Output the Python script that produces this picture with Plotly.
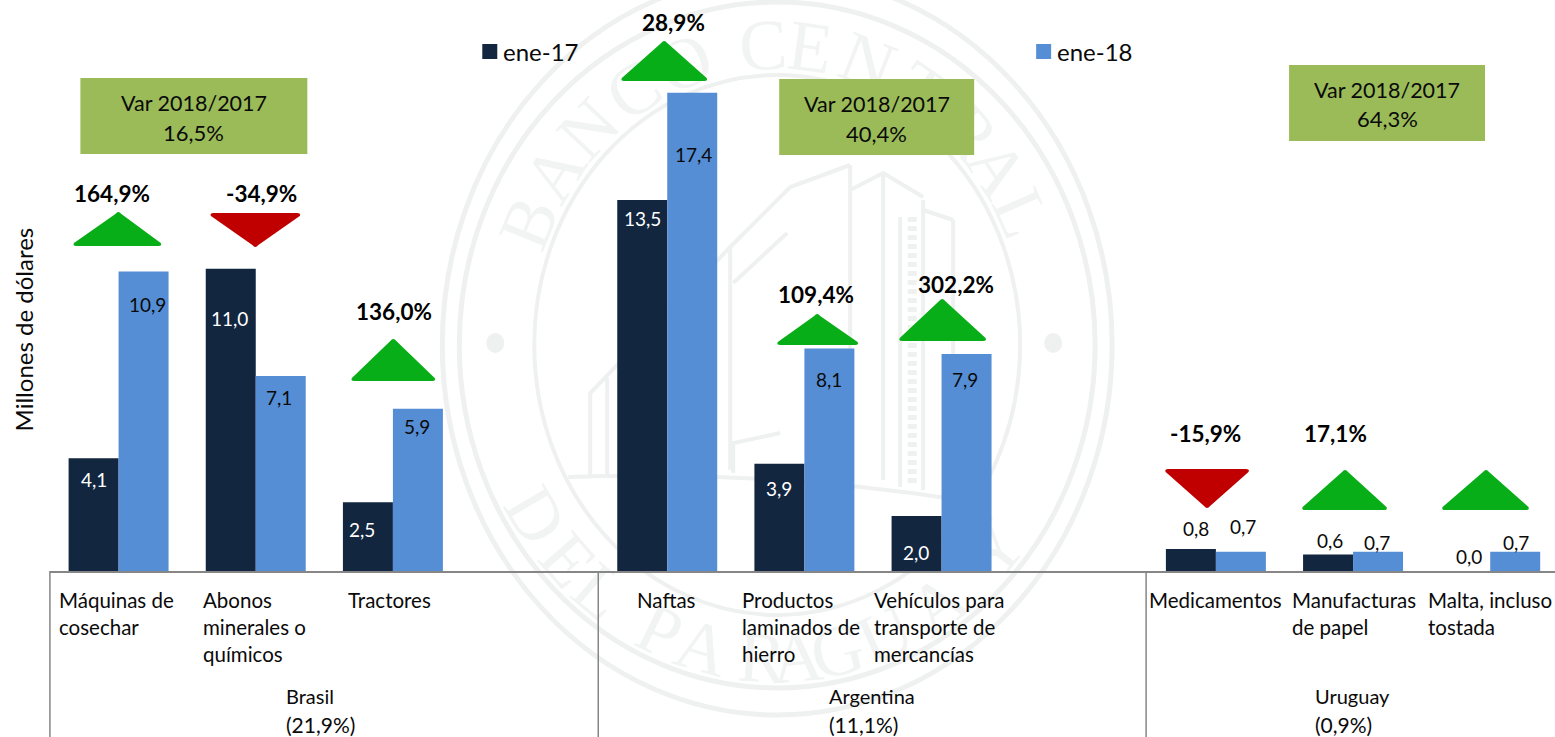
import math
import plotly.graph_objects as go

W, H = 1555, 737
BASE_PX = 571
LEFT_PX = 49.6
UNIT_PX = 27.48
STEP_PX = 137.2
FIRST_PX = 118.2
FONT = "Lato"

# ---- data ----
slots = ["Máquinas de cosechar", "Abonos minerales o químicos", "Tractores", " ",
         "Naftas", "Productos laminados de hierro", "Vehículos para transporte de mercancías", "  ",
         "Medicamentos", "Manufacturas de papel", "Malta, incluso tostada"]
ene_17 = [4.1, 11.0, 2.5, None, 13.5, 3.9, 2.0, None, 0.8, 0.6, 0.0]
ene_18 = [10.9, 7.1, 5.9, None, 17.4, 8.1, 7.9, None, 0.7, 0.7, 0.7]
variation = ["164,9%", "-34,9%", "136,0%", "28,9%", "109,4%", "302,2%", "-15,9%", "17,1%"]
country_names = ["Brasil", "Argentina", "Uruguay"]
country_share = ["(21,9%)", "(11,1%)", "(0,9%)"]
country_var = ["16,5%", "40,4%", "64,3%"]
series_names = ["ene-17", "ene-18"]
y_title = "Millones de dólares"

C17, C18 = "#12263F", "#558ED5"
GREEN, RED = "#08AE17", "#C00000"
BOX = "#9BBB59"
SEAL = "#EEF1EF"
SEAL_TEXT = "#F1F4F2"
GRAY = "#868686"
INK = "#0A0A0A"


def xp(px):
    return (px - LEFT_PX) / (W - LEFT_PX)


def yp(py):
    return (BASE_PX - py) / BASE_PX


def text(px, py, s, size=19, color=INK, anchor="center", bold=False, angle=0):
    if anchor == "left":
        px -= 2
    return dict(x=xp(px), y=yp(py - 1), xref="paper", yref="paper", text=f"<b>{s}</b>" if bold else s,
                showarrow=False, xanchor=anchor, yanchor="middle", textangle=angle,
                font=dict(family=FONT, size=size, color=color))


fmt = lambda v: f"{v:.1f}".replace(".", ",")

fig = go.Figure()
for name, vals, col in zip(series_names, [ene_17, ene_18], [C17, C18]):
    fig.add_trace(go.Bar(x=list(range(len(slots))), y=vals, name=name, marker=dict(color=col, line_width=0),
                         showlegend=False, hoverinfo="x+y"))

shapes, ann = [], []

# ---- seal watermark (behind the bars) ----
CX, CY = 777, 345
for rx, ry, lw in [(335, 370, 5), (318, 343, 5), (243, 270, 4)]:
    shapes.append(dict(type="circle", xref="paper", yref="paper", layer="below",
                       x0=xp(CX - rx), x1=xp(CX + rx), y0=yp(CY + ry), y1=yp(CY - ry),
                       line=dict(color=SEAL, width=lw), fillcolor="rgba(0,0,0,0)"))
for dx in (-282, 276):
    shapes.append(dict(type="circle", xref="paper", yref="paper", layer="below",
                       x0=xp(CX + dx - 9), x1=xp(CX + dx + 9), y0=yp(343 + 10), y1=yp(343 - 10),
                       line_width=0, fillcolor=SEAL))


def seal_letters(word, angles, rx, ry, flip):
    for ch, deg in zip(word, angles):
        a = math.radians(deg)
        px, py = CX + rx * math.sin(a), CY - ry * math.cos(a)
        tang = math.degrees(math.atan2(ry * math.sin(a), rx * math.cos(a)))
        ang = tang if not flip else tang - 180
        shapes.append(dict(type="rect", xref="paper", yref="paper", layer="below",
                           x0=xp(px - 1), x1=xp(px + 1), y0=yp(py + 1), y1=yp(py - 1),
                           line_width=0, fillcolor="rgba(0,0,0,0)",
                           label=dict(text=ch, textposition="middle center", textangle=ang,
                                      font=dict(family="Liberation Serif", size=72, color=SEAL_TEXT))))


seal_letters("BANCOCENTRAL", [-66, -55, -44, -32, -20, -3, 7, 19.5, 32, 45, 54, 64], 280, 308, False)
seal_letters("DELPARAGUAY", [-123, -133.5, -142, -156, -165, -177, -184, -192, -202, -214, -229], 280, 305, True)

building = [
    "M590,478 L590,393 L730,247 L790,187 L850,165",
    "M730,247 L730,470",
    "M733,283 L787,233",
    "M850,165 L850,480",
    "M883,175 L883,480",
    "M923,200 L923,490",
    "M953,220 L953,487",
    "M923,210 L953,220",
    "M850,190 L883,173 L923,197",
    "M900,217 L900,487",
    "M733,473 L733,443 L780,433",
    "M607,378 L607,475",
    "M568,477 Q770,470 960,500",
]


def pxpath(d):
    out, toks = [], d.replace("M", " M ").replace("L", " L ").replace("Q", " Q ").split()
    for t in toks:
        if "," in t:
            a, b = t.split(",")
            out.append(f"{xp(float(a)):.5f},{yp(float(b)):.5f}")
        else:
            out.append(t)
    return " ".join(out)


for d in building:
    shapes.append(dict(type="path", xref="paper", yref="paper", layer="below", path=pxpath(d),
                       line=dict(color=SEAL, width=4)))
shapes.append(dict(type="path", xref="paper", yref="paper", layer="below", path=pxpath("M912,217 L912,487"),
                   line=dict(color=SEAL, width=9, dash="5px,4px")))

# ---- green variation boxes ----
boxes = [(80, 307, 78, 154), (779, 974, 79, 155), (1289, 1485, 65, 141)]
for (x0, x1, y0, y1), v in zip(boxes, country_var):
    shapes.append(dict(type="rect", xref="paper", yref="paper", x0=xp(x0), x1=xp(x1), y0=yp(y1), y1=yp(y0),
                       fillcolor=BOX, line_width=0))
    ann.append(text((x0 + x1) / 2, y0 + 26, "Var 2018/2017", 21.5))
    ann.append(text((x0 + x1) / 2, y0 + 55, v, 22))


# ---- triangles ----
def tri(x0, x1, base, ax, apex):
    r = 3
    sgn = 1 if apex < base else -1
    pts = [(x0 + r, base), (x0 + r * 0.2, base - sgn * r), (ax - r, apex + sgn * r), (ax, apex),
           (ax + r, apex + sgn * r), (x1 - r * 0.2, base - sgn * r), (x1 - r, base)]
    p = f"M{xp(pts[0][0]):.5f},{yp(pts[0][1]):.5f}"
    p += f" Q{xp(x0 - 1):.5f},{yp(base):.5f} {xp(pts[1][0]):.5f},{yp(pts[1][1]):.5f}"
    p += f" L{xp(pts[2][0]):.5f},{yp(pts[2][1]):.5f}"
    p += f" Q{xp(ax):.5f},{yp(apex - sgn * 1):.5f} {xp(pts[4][0]):.5f},{yp(pts[4][1]):.5f}"
    p += f" L{xp(pts[5][0]):.5f},{yp(pts[5][1]):.5f}"
    p += f" Q{xp(x1 + 1):.5f},{yp(base):.5f} {xp(pts[6][0]):.5f},{yp(pts[6][1]):.5f} Z"
    shapes.append(dict(type="path", xref="paper", yref="paper", path=p, fillcolor=GREEN if sgn == 1 else RED,
                       line_width=0))


for t in [(73, 161, 246, 118, 211), (210, 300, 213, 255, 248), (351, 435, 381, 393, 338),
          (621, 707, 81, 664, 40), (777, 858, 345, 817, 313), (899, 986, 341, 942, 298),
          (1165, 1249, 469, 1207, 509), (1302, 1387, 510, 1345, 469), (1442, 1529, 510, 1486, 469)]:
    tri(*t)

for s, (px, py) in zip(variation, [(112, 194), (261, 194), (394, 313), (673, 24), (816, 295), (956, 285),
                                   (1205, 434), (1335, 434)]):
    ann.append(text(px, py, s, 22.5, "#000000", bold=True))

# ---- value labels ----
pos17 = [(94, 480), (229, 319), (362, 530), None, (642, 219), (779, 489), (916, 553), None,
         (1196, 529), (1330, 541), (1469, 557)]
pos18 = [(147, 305), (279, 398), (417, 427), None, (693, 155), (829, 380), (965, 380), None,
         (1243, 527), (1377, 543), (1516, 543)]
for i, (a, b) in enumerate(zip(ene_17, ene_18)):
    if a is None:
        continue
    ann.append(text(*pos17[i], fmt(a), 19, "#FFFFFF" if i < 7 else INK))
    ann.append(text(*pos18[i], fmt(b), 19, INK))
ann.append(text(787, 428, "4,5", 18, "#FFFFFF"))

# ---- category labels, line by line ----
cat_lines = [(59, ["Máquinas de", "cosechar"]), (203, ["Abonos", "minerales o", "químicos"]), (348, ["Tractores"]),
             (637, ["Naftas"]), (742, ["Productos", "laminados de", "hierro"]),
             (874, ["Vehículos para", "transporte de", "mercancías"]),
             (1149, ["Medicamentos"]), (1292, ["Manufacturas", "de papel"]), (1428, ["Malta, incluso", "tostada"])]
for px, lines in cat_lines:
    for k, ln in enumerate(lines):
        ann.append(text(px, 601 + 27 * k, ln, 20.5, anchor="left"))
for px, n, s in zip([286, 829, 1315], country_names, country_share):
    ann.append(text(px, 697, n, 20, anchor="left"))
    ann.append(text(px, 725, s, 21, anchor="left"))

# ---- separators ----
for px in (49.5, 598, 1146):
    shapes.append(dict(type="line", xref="paper", yref="paper", x0=xp(px), x1=xp(px), y0=yp(BASE_PX), y1=yp(H),
                       line=dict(color=GRAY, width=1.5)))

# ---- legend drawn in place ----
for px, name, col in zip([482, 1036], series_names, [C17, C18]):
    shapes.append(dict(type="rect", xref="paper", yref="paper", x0=xp(px), x1=xp(px + 15), y0=yp(59), y1=yp(44),
                       fillcolor=col, line_width=0))
    ann.append(text(px + 21, 52, name, 24, anchor="left"))

ann.append(text(24, 330, y_title, 24, angle=-90))

fig.update_layout(
    width=W, height=H, margin=dict(l=LEFT_PX, r=0, t=0, b=H - BASE_PX, autoexpand=False),
    paper_bgcolor="white", plot_bgcolor="rgba(0,0,0,0)", barmode="group",
    bargap=1 - 100 / STEP_PX, bargroupgap=0, showlegend=False,
    xaxis=dict(range=[-0.5, (W - FIRST_PX) / STEP_PX], tickvals=[], showgrid=False, zeroline=False,
               showline=True, linecolor=GRAY, linewidth=2),
    yaxis=dict(range=[0, BASE_PX / UNIT_PX], visible=False),
    shapes=shapes, annotations=ann, font=dict(family=FONT),
)
fig.write_html("out.html", config=dict(displayModeBar=False),
               post_script="document.body.style.margin='0';document.documentElement.style.overflow='hidden';")
